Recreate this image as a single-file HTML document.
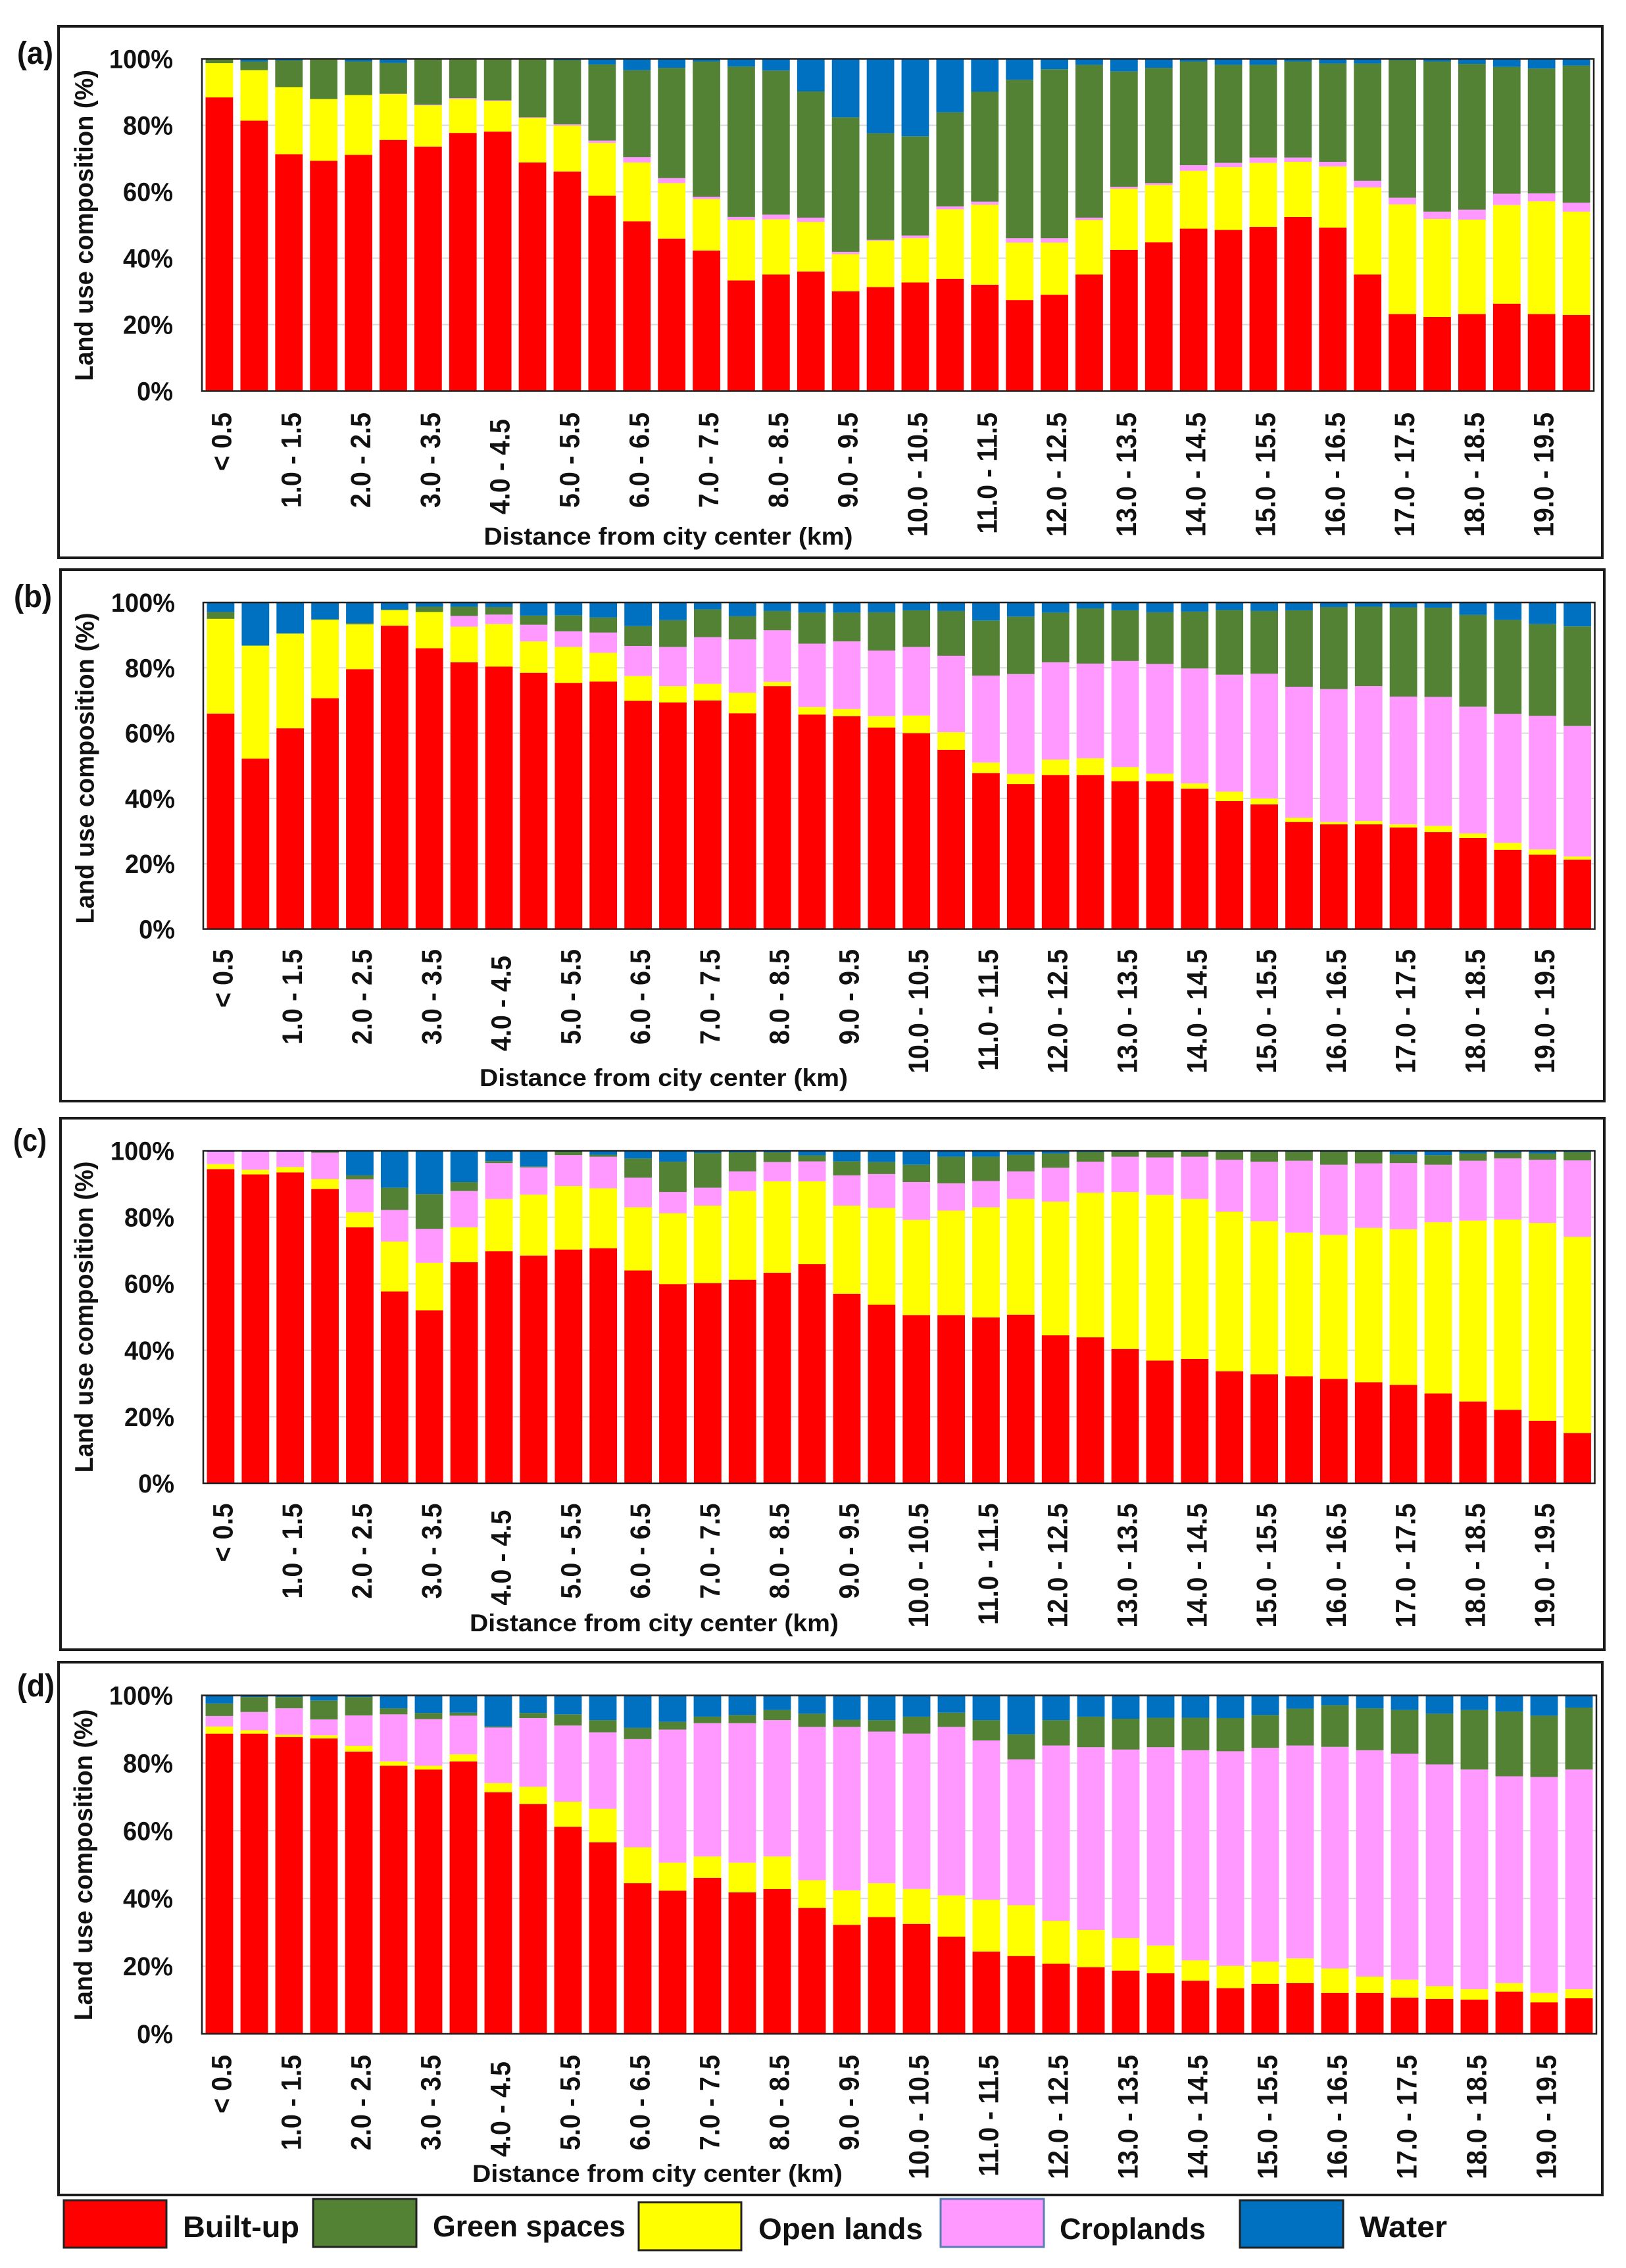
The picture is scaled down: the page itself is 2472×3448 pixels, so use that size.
<!DOCTYPE html>
<html lang="en">
<head>
<meta charset="utf-8">
<title>Land use composition by distance from city center</title>
<style>
  html, body { margin: 0; padding: 0; background: #fff; }
  svg { display: block; }
  text { font-family: "Liberation Sans", sans-serif; font-weight: bold; fill: #111; }
</style>
</head>
<body>
<svg id="chart" xmlns="http://www.w3.org/2000/svg" width="2472" height="3448" viewBox="0 0 2472 3448">
  <rect x="0" y="0" width="2472" height="3448" fill="#ffffff"/>
  <g id="panels"></g>
  <g>
    <g>
      <rect x="97" y="3345" width="156" height="72" fill="#ff0000" stroke="#222" stroke-width="3"/>
      <text x="278" y="3401" font-size="45" textLength="177" lengthAdjust="spacingAndGlyphs">Built-up</text>
    </g>
    <g>
      <rect x="476" y="3343" width="157" height="73" fill="#548235" stroke="#222" stroke-width="3"/>
      <text x="658" y="3400" font-size="45" textLength="293" lengthAdjust="spacingAndGlyphs">Green spaces</text>
    </g>
    <g>
      <rect x="971" y="3348" width="156" height="73" fill="#ffff00" stroke="#222" stroke-width="3"/>
      <text x="1153" y="3404" font-size="45" textLength="250" lengthAdjust="spacingAndGlyphs">Open lands</text>
    </g>
    <g>
      <rect x="1430" y="3343" width="157" height="73" fill="#ff99ff" stroke="#5b7db5" stroke-width="3"/>
      <text x="1611" y="3404" font-size="45" textLength="222" lengthAdjust="spacingAndGlyphs">Croplands</text>
    </g>
    <g>
      <rect x="1885" y="3345" width="157" height="72" fill="#0070c0" stroke="#222" stroke-width="3"/>
      <text x="2067" y="3401" font-size="45" textLength="133" lengthAdjust="spacingAndGlyphs">Water</text>
    </g>
  </g>
</svg>
<script>
const categories = ["< 0.5","0.5 - 1.0","1.0 - 1.5","1.5 - 2.0","2.0 - 2.5","2.5 - 3.0","3.0 - 3.5","3.5 - 4.0","4.0 - 4.5","4.5 - 5.0","5.0 - 5.5","5.5 - 6.0","6.0 - 6.5","6.5 - 7.0","7.0 - 7.5","7.5 - 8.0","8.0 - 8.5","8.5 - 9.0","9.0 - 9.5","9.5 - 10.0","10.0 - 10.5","10.5 - 11.0","11.0 - 11.5","11.5 - 12.0","12.0 - 12.5","12.5 - 13.0","13.0 - 13.5","13.5 - 14.0","14.0 - 14.5","14.5 - 15.0","15.0 - 15.5","15.5 - 16.0","16.0 - 16.5","16.5 - 17.0","17.0 - 17.5","17.5 - 18.0","18.0 - 18.5","18.5 - 19.0","19.0 - 19.5","19.5 - 20.0"];
const yTicks = [0, 20, 40, 60, 80, 100];

const aBuiltUp = [88.4,81.4,71.3,69.3,71.1,75.6,73.6,77.7,78.1,68.8,66.1,58.8,51.1,45.9,42.3,33.3,35.1,36,30,31.3,32.7,33.8,32,27.4,29,35.1,42.5,44.8,48.9,48.5,49.4,52.4,49.2,35.1,23.2,22.3,23.2,26.3,23.2,22.9];
const aOpen = [10.3,15.2,20.2,18.6,18,13.8,12.4,10.2,9.2,13.4,13.8,15.9,17.7,16.7,15.5,18.2,16.6,14.9,11.2,13.9,13.3,20.9,24.1,17.3,15.7,16.4,18.4,17.2,17.4,18.9,19.3,16.6,18.4,26.2,33,29.5,28.4,29.7,33.9,31.1];
const aCrop = [0,0,0,0,0,0.1,0.2,0.3,0.2,0.2,0.4,0.7,1.6,1.5,0.7,0.9,1.4,1.3,0.7,0.3,0.8,0.9,0.9,1.3,1.3,0.7,0.6,0.6,1.7,1.3,1.6,1.3,1.4,2,2,2.2,3,3.4,2.4,2.7];
const aGreen = [1.3,2.6,8,11.9,10.1,9.3,13.6,11.6,12.3,17.4,19.3,22.9,26.2,33.2,40.7,45.3,43.4,38,40.5,32.1,29.9,28.3,33.1,47.7,50.9,46,34.7,34.7,31.2,29.5,27.9,28.9,29.6,35.3,41.4,45.2,43.9,38.2,37.6,41.3];
const aWater = [0,0.8,0.5,0.2,0.8,1.2,0.2,0.2,0.2,0.2,0.4,1.7,3.4,2.7,0.8,2.3,3.5,9.8,17.6,22.4,23.3,16.1,9.9,6.3,3.1,1.8,3.8,2.7,0.8,1.8,1.8,0.8,1.4,1.4,0.4,0.8,1.5,2.4,2.9,2];

const bBuiltUp = [66,52.2,61.5,70.7,79.6,92.9,86,81.7,80.4,78.5,75.4,75.8,69.9,69.4,70,66.1,74.4,65.7,65.2,61.7,60,54.9,47.8,44.4,47.2,47.2,45.3,45.3,43,39.2,38.2,32.8,32.1,32.1,31.1,29.7,27.9,24.3,22.8,21.3];
const bOpen = [29,34.6,29,24,13.7,4.8,11.1,10.9,13,9.6,11,8.8,7.6,5,5.1,6.3,1.3,2.3,2.2,3.5,5.4,5.4,3.2,3.1,4.7,5.1,4.3,2.3,1.6,2.9,1.8,1.3,0.7,1,1,1.9,1.4,2.1,1.6,0.9];
const bCrop = [0,0,0,0,0,0,0,3.3,2.9,5.1,4.8,6.2,9.2,12,14.3,16.3,15.8,19.4,20.7,20.1,21,23.4,26.6,30.6,29.8,29,32.5,33.6,35.2,35.8,38.2,40.1,40.7,41.3,39.1,39.5,38.8,39.5,40.9,40];
const bGreen = [2.1,0,0,0.2,0.4,0.1,1.6,2.8,2.3,2.8,4.9,4.6,6.1,8.2,8.5,7.1,5.9,9.5,8.8,11.7,11.2,13.7,16.9,17.6,15.2,16.9,15.5,15.8,17.4,19.8,19.2,23.4,25.1,24.3,27.3,27.3,28.1,28.8,28.1,30.5];
const bWater = [2.9,13.2,9.5,5.1,6.3,2.2,1.3,1.3,1.4,4,3.9,4.6,7.2,5.4,2.1,4.2,2.6,3.1,3.1,3,2.4,2.6,5.5,4.3,3.1,1.8,2.4,3,2.8,2.3,2.6,2.4,1.4,1.3,1.5,1.6,3.8,5.3,6.6,7.3];

const cBuiltUp = [94.5,92.9,93.5,88.5,77,57.7,52,66.5,69.8,68.5,70.3,70.7,64,59.9,60.2,61.2,63.3,65.9,57,53.7,50.6,50.6,49.9,50.7,44.5,43.9,40.4,36.9,37.4,33.7,32.8,32.2,31.4,30.4,29.6,27,24.6,22.1,18.8,15.1];
const cOpen = [1.5,1.4,1.6,3,4.5,15,14.3,10.5,15.7,18.3,19.1,18,19,21.3,23.3,26.7,27.5,24.9,26.5,29.1,28.6,31.4,33.1,34.8,40.2,43.5,47.2,49.8,48.1,48,46,43.2,43.3,46.4,46.8,51.5,54.4,57.2,59.5,59];
const cCrop = [3.7,5.4,4.6,7.9,9.9,9.5,10.2,10.9,10.8,8.2,9.3,9.5,8.9,6.4,5.4,5.9,5.8,6,9.1,10.2,11.4,8.2,7.9,8.3,10.2,9.3,10.6,11.3,12.7,15.6,17.9,21.6,21.1,19.4,19.9,17.3,18,18.4,19,23];
const cGreen = [0,0,0,0.3,1.2,6.7,10.5,2.7,0.6,0.3,1,0.6,5.8,9.1,10.4,5.7,2.9,1.8,4.2,3.6,5.2,8,7.3,5,4.3,2.9,1.5,1.7,1.5,2.4,3,2.7,3.9,3.5,2.6,2.9,2.2,1.7,1.9,2.5];
const cWater = [0.3,0.3,0.3,0.3,7.4,11.1,13,9.4,3.1,4.7,0.3,1.2,2.3,3.3,0.7,0.5,0.5,1.4,3.2,3.4,4.2,1.8,1.8,1.2,0.8,0.4,0.3,0.3,0.3,0.3,0.3,0.3,0.3,0.3,1.1,1.3,0.8,0.6,0.8,0.4];

const dBuiltUp = [88.7,88.7,87.7,87.3,83.4,79.2,78.1,80.5,71.4,67.9,61.2,56.6,44.5,42.3,46.1,41.8,42.8,37.2,32.2,34.5,32.5,28.7,24.3,23,20.7,19.7,18.7,17.9,15.7,13.5,14.8,15,12.1,12.1,10.7,10.3,10.1,12.5,9.3,10.5];
const dOpen = [2.1,1,0.7,0.9,1.7,1.3,1.1,2.1,2.7,5.1,7.4,9.9,10.6,8.3,6.3,8.8,9.6,8.2,10.2,10,10.3,12.2,15.3,15,12.7,11,9.6,8.2,6,6.6,6.5,7.3,7.2,4.8,5.3,3.8,3.1,2.5,2.8,2.7];
const dCrop = [3.1,5.4,7.8,4.7,9,13.9,13.8,11.4,16.4,20.3,22.5,22.6,32,39.3,39.4,41.2,40.3,45.3,48.3,44.8,45.9,49.8,47.1,43.1,51.8,54,55.7,58.6,62.1,63.4,63.2,62.9,65.5,66.9,66.8,65.5,64.9,61.1,63.8,64.9];
const dGreen = [3.7,4.4,3.3,5.6,5.4,1.8,1.8,0.9,0.3,1.5,3.3,3.6,3.3,2.3,1.9,2.4,3,3.9,2.1,3.4,5,4.2,6,7.4,7.5,9,9.1,8.7,9.6,9.8,9.7,10.9,12.3,12.4,12.9,15,17.6,19.1,18.1,18.3];
const dWater = [2.4,0.5,0.5,1.5,0.5,3.8,5.2,5.1,9.2,5.2,5.6,7.3,9.6,7.8,6.3,5.8,4.3,5.4,7.2,7.3,6.3,5.1,7.3,11.5,7.3,6.3,6.9,6.6,6.6,6.7,5.8,3.9,2.9,3.8,4.3,5.4,4.3,4.8,6,3.6];

const seriesNames = ["built-up", "open-lands", "croplands", "green-spaces", "water"];
const seriesColors = ["#ff0000", "#ffff00", "#ff99ff", "#548235", "#0070c0"];

const layouts = [
  { id: "a", series: [aBuiltUp, aOpen, aCrop, aGreen, aWater],
    frame: [89, 40, 2436, 848], plot: [307, 89.5, 2423, 594.5],
    tag: [26, 97, 55], tickRight: 263, yTitle: [141, 342.5], xLabelTop: 627, xTitle: [735.5, 828, 561] },
  { id: "b", series: [bBuiltUp, bOpen, bCrop, bGreen, bWater],
    frame: [92, 866, 2439, 1674], plot: [309, 916, 2424.5, 1412.5],
    tag: [21, 923, 58], tickRight: 266, yTitle: [142.5, 1168], xLabelTop: 1443, xTitle: [729, 1651, 560] },
  { id: "c", series: [cBuiltUp, cOpen, cCrop, cGreen, cWater],
    frame: [92, 1700, 2439, 2508], plot: [309, 1749.5, 2424.5, 2255],
    tag: [20, 1750, 51], tickRight: 265, yTitle: [141, 2002], xLabelTop: 2285.5, xTitle: [714, 2480, 561] },
  { id: "d", series: [dBuiltUp, dOpen, dCrop, dGreen, dWater],
    frame: [89, 2527, 2436, 3337], plot: [307, 2577.5, 2427, 3092],
    tag: [26, 2579, 57], tickRight: 263, yTitle: [140, 2835], xLabelTop: 3124, xTitle: [718, 3317, 563] }
];

const SVGNS = "http://www.w3.org/2000/svg";
const panelsRoot = document.getElementById("panels");

function make(tag, attrs, parent, content) {
  const el = document.createElementNS(SVGNS, tag);
  Object.keys(attrs).forEach(function (k) { el.setAttribute(k, attrs[k]); });
  if (content !== undefined) el.textContent = content;
  parent.appendChild(el);
  return el;
}

layouts.forEach(function (p) {
  const left = p.plot[0], top = p.plot[1], right = p.plot[2], bottom = p.plot[3];
  const pitch = (right - left) / categories.length;
  const barWidth = pitch * 0.79;
  const yScale = function (v) { return bottom - (v / 100) * (bottom - top); };
  const xCenter = function (i) { return left + pitch * (i + 0.5); };

  const g = make("g", {}, panelsRoot);
  
  

  const frame = make("rect", { x: p.frame[0], y: p.frame[1], width: p.frame[2] - p.frame[0], height: p.frame[3] - p.frame[1], fill: "#fff", stroke: "#1a1a1a", "stroke-width": 4 }, g);
  
  

  const tag = make("text", { x: p.tag[0], y: p.tag[1], "font-size": 48, textLength: p.tag[2], lengthAdjust: "spacingAndGlyphs" }, g, "(" + p.id + ")");
  
  

  yTicks.forEach(function (t) {
    const y = yScale(t);
    if (t > 0 && t < 100) {
      const grid = make("line", { x1: left, x2: right, y1: y, y2: y, stroke: "#d9d9d9", "stroke-width": 2 }, g);
      
      
    }
    const tick = make("text", { x: 0, y: 0, "font-size": 40, "text-anchor": "end", transform: "translate(" + p.tickRight + " " + (y + 14) + ") scale(0.95 1)" }, g, t + "%");
    
    
  });

  categories.forEach(function (label, i) {
    let base = 0;
    p.series.forEach(function (values, s) {
      const v = values[i];
      if (v > 0) {
        const bar = make("rect", { x: xCenter(i) - barWidth / 2, y: yScale(base + v), width: barWidth, height: yScale(base) - yScale(base + v), fill: seriesColors[s] }, g);
        
        
      }
      base += v;
    });
    if (i % 2 === 0) {
      const lx = xCenter(i) + 18;
      const ly = p.xLabelTop + (label === "4.0 - 4.5" ? 10 : 0);
      const xt = make("text", { x: 0, y: 0, "font-size": 43, "text-anchor": "end", transform: "translate(" + lx + " " + ly + ") rotate(-90) scale(0.92 1)" }, g, label);
      
      
    }
  });

  const box = make("rect", { x: left, y: top, width: right - left, height: bottom - top, fill: "none", stroke: "#1f1f1f", "stroke-width": 2.5 }, g);
  
  

  const yTitle = make("text", { x: p.yTitle[0], y: p.yTitle[1], "font-size": 39, "text-anchor": "middle", textLength: 473, lengthAdjust: "spacingAndGlyphs", transform: "rotate(-90 " + p.yTitle[0] + " " + p.yTitle[1] + ")" }, g, "Land use composition (%)");
  
  

  const xTitle = make("text", { x: p.xTitle[0], y: p.xTitle[1], "font-size": 37, textLength: p.xTitle[2], lengthAdjust: "spacingAndGlyphs" }, g, "Distance from city center (km)");
  
  
});
</script>
</body>
</html>
